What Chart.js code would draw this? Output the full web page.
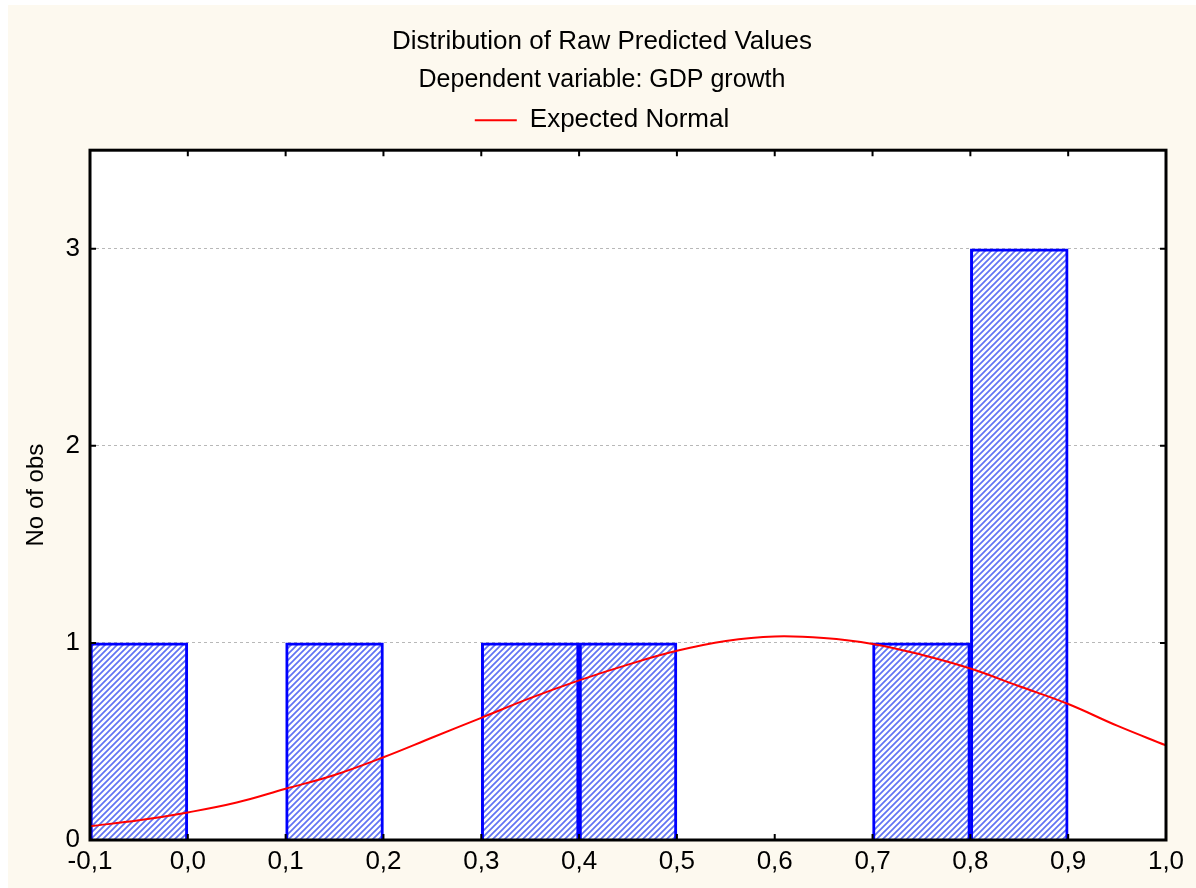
<!DOCTYPE html>
<html>
<head>
<meta charset="utf-8">
<script src="https://cdn.jsdelivr.net/npm/chart.js@4.4.0/dist/chart.umd.min.js"></script>
<style>
  html, body { margin: 0; padding: 0; background: #fff; }
  #wrap { width: 1196px; height: 888px; position: relative; }
  canvas { display: block; }
</style>
</head>
<body>
<div id="wrap"><canvas id="chart" width="1196" height="888"></canvas></div>
<script>
// histogram bins (centre of each 0.1 wide bin) and counts
var binCenters = [-0.05, 0.05, 0.15, 0.25, 0.35, 0.45, 0.55, 0.65, 0.75, 0.85, 0.95];
var binCounts  = [1, null, 1, null, 1, 1, null, null, 1, 3, null];

// expected normal curve
var curveX = [-0.1, -0.05, 0.0, 0.05, 0.1, 0.15, 0.2, 0.25, 0.3, 0.35, 0.4, 0.45, 0.5, 0.55, 0.6, 0.65, 0.7, 0.75, 0.8, 0.85, 0.9, 0.95, 1.0];
var curveY = [0.07, 0.10, 0.14, 0.19, 0.26, 0.33, 0.42, 0.52, 0.62, 0.72, 0.81, 0.89, 0.96, 1.01, 1.033, 1.025, 0.995, 0.94, 0.87, 0.78, 0.69, 0.58, 0.48];

var xTicks = [-0.1, 0.0, 0.1, 0.2, 0.3, 0.4, 0.5, 0.6, 0.7, 0.8, 0.9, 1.0];
var yTicks = [0, 1, 2, 3];

var FONT = "'Liberation Sans', Arial, sans-serif";

// blue diagonal hatch fill
function makeHatch() {
  var c = document.createElement('canvas');
  c.width = 6; c.height = 6;
  var g = c.getContext('2d');
  g.fillStyle = '#ffffff';
  g.fillRect(0, 0, 6, 6);
  g.strokeStyle = '#6173f3';
  g.lineWidth = 1.7;
  g.beginPath();
  g.moveTo(0, 6); g.lineTo(6, 0);
  g.moveTo(-3, 3); g.lineTo(3, -3);
  g.moveTo(3, 9); g.lineTo(9, 3);
  g.stroke();
  return g.createPattern(c, 'repeat');
}

// cream page, white plot area
var backgroundPlugin = {
  id: 'backgrounds',
  beforeDraw: function(chart) {
    var ctx = chart.ctx, a = chart.chartArea;
    ctx.save();
    ctx.fillStyle = '#fdf9ef';
    ctx.fillRect(8, 5, chart.width - 8, chart.height - 5);
    ctx.fillStyle = '#ffffff';
    ctx.fillRect(a.left, a.top, a.right - a.left, a.bottom - a.top);
    ctx.restore();
  }
};

// frame + inward tick marks on all four sides
var framePlugin = {
  id: 'frame',
  afterDatasetsDraw: function(chart) {
    var ctx = chart.ctx, a = chart.chartArea;
    var xs = chart.scales.x, ys = chart.scales.y;
    ctx.save();
    ctx.strokeStyle = '#000';
    ctx.lineWidth = 3;
    ctx.strokeRect(a.left, a.top, a.right - a.left, a.bottom - a.top);
    ctx.lineWidth = 2;
    ctx.beginPath();
    xTicks.forEach(function(v) {
      var px = xs.getPixelForValue(v);
      ctx.moveTo(px, a.bottom); ctx.lineTo(px, a.bottom - 6);
      ctx.moveTo(px, a.top); ctx.lineTo(px, a.top + 6);
    });
    yTicks.forEach(function(v) {
      var py = ys.getPixelForValue(v);
      ctx.moveTo(a.left, py); ctx.lineTo(a.left + 6, py);
      ctx.moveTo(a.right, py); ctx.lineTo(a.right - 6, py);
    });
    ctx.stroke();
    ctx.restore();
  }
};

var barData = binCenters.map(function(x, i) { return { x: x, y: binCounts[i] }; });
var curveData = curveX.map(function(x, i) { return { x: x, y: curveY[i] }; });

new Chart(document.getElementById('chart'), {
  type: 'bar',
  data: {
    datasets: [{
      type: 'line',
      label: 'Expected Normal',
      data: curveData,
      borderColor: '#ff0000',
      backgroundColor: '#ff0000',
      borderWidth: 2,
      pointRadius: 0,
      tension: 0.4,
      order: 0
    }, {
      type: 'bar',
      label: 'bins',
      data: barData,
      backgroundColor: makeHatch(),
      borderColor: '#0000ff',
      borderWidth: 3,
      borderSkipped: 'start',
      barPercentage: 1.0,
      categoryPercentage: 1.0,
      order: 1
    }]
  },
  options: {
    responsive: false,
    animation: false,
    devicePixelRatio: 1,
    layout: { padding: { left: 8, right: 0, top: 0, bottom: 0 } },
    plugins: {
      title: {
        display: true,
        text: 'Distribution of Raw Predicted Values',
        color: '#000',
        font: { family: FONT, size: 26, weight: 'normal' },
        padding: { top: 26, bottom: 8 }
      },
      subtitle: {
        display: true,
        text: 'Dependent variable: GDP growth',
        color: '#000',
        font: { family: FONT, size: 25, weight: 'normal' },
        padding: { top: 0, bottom: 0 }
      },
      legend: {
        display: true,
        labels: {
          color: '#000',
          font: { family: FONT, size: 26 },
          usePointStyle: true,
          pointStyle: 'line',
          pointStyleWidth: 42,
          padding: 12,
          filter: function(item) { return item.text === 'Expected Normal'; }
        }
      },
      tooltip: { enabled: false }
    },
    scales: {
      x: {
        type: 'linear',
        min: -0.1,
        max: 1.0,
        offset: false,
        afterBuildTicks: function(s) { s.ticks = xTicks.map(function(v) { return { value: v }; }); },
        afterFit: function(s) { s.height = 48; },
        ticks: {
          color: '#000',
          font: { family: FONT, size: 26 },
          padding: 6,
          callback: function(v) { return v.toFixed(1).replace('.', ','); }
        },
        grid: { display: false, drawTicks: false, offset: false },
        border: { display: false }
      },
      x2: {
        type: 'linear',
        position: 'top',
        min: -0.1,
        max: 1.0,
        afterFit: function(s) { s.height = 7; },
        ticks: { display: false },
        grid: { display: false, drawTicks: false },
        border: { display: false }
      },
      y: {
        min: 0,
        max: 3.5,
        afterBuildTicks: function(s) { s.ticks = yTicks.map(function(v) { return { value: v }; }); },
        afterFit: function(s) { s.width = 82; },
        ticks: {
          color: '#000',
          font: { family: FONT, size: 26 },
          padding: 10
        },
        grid: {
          color: '#b8b8b8',
          lineWidth: 1,
          drawTicks: false
        },
        border: { display: false, dash: [3, 3] },
        title: {
          display: true,
          text: 'No of obs',
          color: '#000',
          font: { family: FONT, size: 24 },
          padding: { top: 14, bottom: 0 }
        }
      },
      y2: {
        position: 'right',
        min: 0,
        max: 3.5,
        afterFit: function(s) { s.width = 30; },
        ticks: { display: false },
        grid: { display: false, drawTicks: false },
        border: { display: false }
      }
    }
  },
  plugins: [backgroundPlugin, framePlugin]
});
</script>
</body>
</html>
